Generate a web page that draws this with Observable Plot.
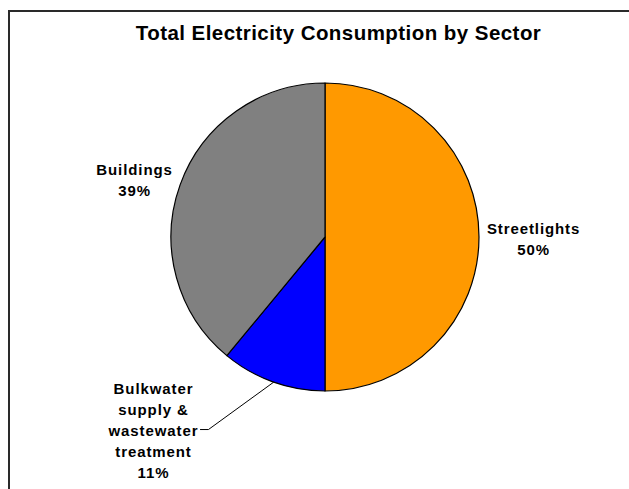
<!DOCTYPE html>
<html>
<head>
<meta charset="utf-8">
<script src="https://cdn.jsdelivr.net/npm/d3@7"></script>
<script src="https://cdn.jsdelivr.net/npm/@observablehq/plot@0.6"></script>
<style>
  html, body { margin: 0; padding: 0; background: #fff; }
  #wrap { position: relative; width: 629px; height: 489px; overflow: hidden; }
  #frame { position: absolute; left: 8px; top: 10px; width: 700px; height: 600px;
           border-left: 2px solid #2a2a2a; border-top: 2px solid #2a2a2a; }
  #chart { position: absolute; left: 0; top: 0; }
</style>
</head>
<body>
<div id="wrap"><div id="frame"></div><div id="chart"></div></div>
<script>
const title = "Total Electricity Consumption by Sector";
const sectors = ["Streetlights", "Bulkwater\nsupply &\nwastewater\ntreatment", "Buildings"];
const shares = [50, 11, 39];
const colors = ["#FF9900", "#0000FF", "#808080"];

// label placement (layout, in pie-radius units)
const labelX = [1.351, -1.117, -1.240];
const labelY = [0.0, -1.247, 0.383];

const rows = sectors.map((s, i) => ({sector: s, share: shares[i], color: colors[i],
  lx: labelX[i], ly: labelY[i], label: s + "\n" + shares[i] + "%"}));

const arcs = d3.pie().sort(null).value(d => d.share).startAngle(0)(rows);

// leader line for the small slice: from arc midpoint to the label
const small = arcs[1];
const mid = (small.startAngle + small.endAngle) / 2;
const leader = [
  {x: Math.sin(mid), y: Math.cos(mid)},
  {x: -0.760, y: -1.247},
  {x: -0.812, y: -1.247}
];

function pieMark(index, scales) {
  const cx = scales.x(0), cy = scales.y(0);
  const r = scales.x(1) - scales.x(0);
  const arc = d3.arc().innerRadius(0).outerRadius(r);
  const g = d3.create("svg:g").attr("transform", `translate(${cx},${cy})`);
  g.selectAll("path").data(arcs).join("path")
    .attr("d", arc)
    .attr("fill", d => d.data.color)
    .attr("stroke", "#000")
    .attr("stroke-width", 1.2)
    .attr("stroke-linejoin", "round");
  return g.node();
}

const plot = Plot.plot({
  width: 629,
  height: 489,
  margin: 0,
  x: {domain: [-1, 1], range: [171, 479], axis: null},
  y: {domain: [-1, 1], range: [391, 83], axis: null},
  style: {background: "transparent", fontFamily: "Liberation Sans, Arial, sans-serif"},
  marks: [
    pieMark,
    Plot.line(leader, {x: "x", y: "y", stroke: "#000", strokeWidth: 1}),
    Plot.text(rows, {x: "lx", y: "ly", text: "label", fontSize: 15, fontWeight: "bold",
      lineHeight: 1.4, fill: "#000", textAnchor: "middle", lineAnchor: "middle"}),
    Plot.text([title], {frameAnchor: "top", dx: 23.5, dy: 39, lineAnchor: "bottom",
      fontSize: 20.5, fontWeight: "bold", fill: "#000"})
  ]
});
document.getElementById("chart").appendChild(plot);
const textGroups = plot.querySelectorAll("g[aria-label=text]");
if (textGroups[0]) textGroups[0].setAttribute("letter-spacing", "0.9");
if (textGroups[1]) textGroups[1].setAttribute("letter-spacing", "0.45");
</script>
</body>
</html>
